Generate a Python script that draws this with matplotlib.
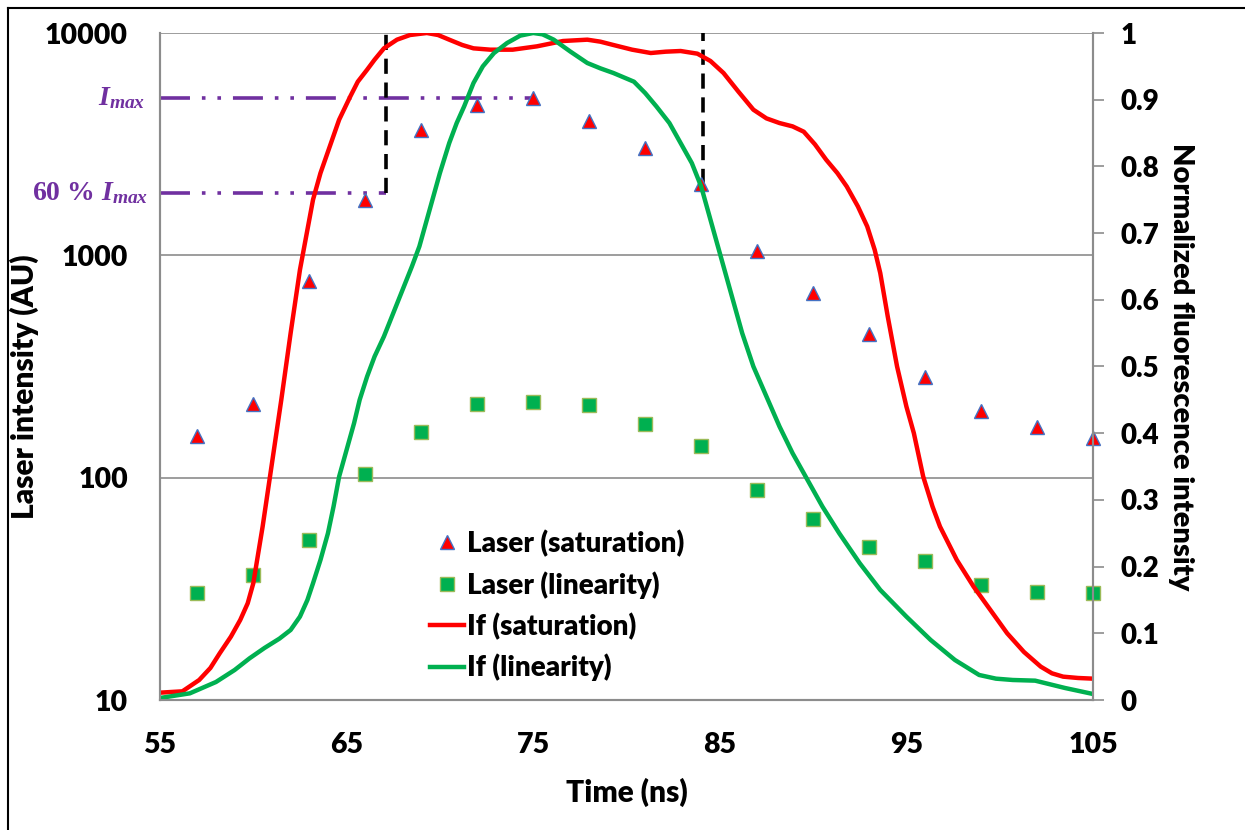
import matplotlib.pyplot as plt
from matplotlib.lines import Line2D

plt.rcParams['font.family'] = ['Lato', 'DejaVu Sans']
plt.rcParams['mathtext.fontset'] = 'custom'
plt.rcParams['mathtext.it'] = 'Liberation Serif:italic:bold'
plt.rcParams['mathtext.rm'] = 'Liberation Serif:bold'

# laser pulse samples (left log axis)
laser_t = [57, 60, 63, 66, 69, 72, 75, 78, 81, 84, 87, 90, 93, 96, 99, 102, 105]
laser_sat = [154, 215, 767, 1775, 3665, 4750, 5110, 4025, 3040, 2095, 1047, 677, 443, 284, 200, 169, 151]
laser_lin = [30.3, 36.5, 52.4, 104, 160, 215, 219, 212, 174, 139, 88, 65, 49, 42, 33, 30.6, 30.3]

# normalized fluorescence (right axis)
if_sat_t = [55.0, 56.2, 57.1, 57.7, 58.2, 58.8, 59.3, 59.7, 60.0, 60.5, 61.0, 61.5, 62.0, 62.5,
            62.9, 63.2, 63.6, 64.1, 64.6, 65.2, 65.6, 66.1, 66.5, 67.0, 67.7, 68.4, 69.3, 69.9,
            70.5, 71.2, 71.8, 72.7, 73.9, 75.2, 76.6, 77.9, 78.6, 79.3, 80.3, 81.3, 82.1, 82.9,
            83.8, 84.5, 85.2, 86.0, 86.8, 87.5, 88.2, 88.9, 89.5, 90.1, 90.7, 91.3, 91.8, 92.4,
            92.9, 93.3, 93.6, 94.0, 94.5, 95.0, 95.4, 95.9, 96.4, 96.8, 97.7, 98.6, 99.5, 100.4,
            101.3, 102.2, 102.8, 103.4, 104.2, 105.0]
if_sat = [0.011, 0.013, 0.03, 0.048, 0.07, 0.095, 0.12, 0.145, 0.175, 0.26, 0.355, 0.45, 0.55, 0.645,
          0.705, 0.75, 0.79, 0.83, 0.87, 0.905, 0.927, 0.945, 0.96, 0.977, 0.99, 0.997, 1.0, 0.997,
          0.99, 0.982, 0.977, 0.975, 0.975, 0.98, 0.988, 0.99, 0.987, 0.982, 0.975, 0.97, 0.972, 0.973,
          0.969, 0.958, 0.94, 0.912, 0.885, 0.872, 0.865, 0.86, 0.852, 0.833, 0.81, 0.79, 0.77, 0.74,
          0.71, 0.675, 0.64, 0.575, 0.5, 0.44, 0.4, 0.335, 0.29, 0.26, 0.21, 0.17, 0.135, 0.1,
          0.072, 0.05, 0.04, 0.035, 0.033, 0.032]

if_lin_t = [55.0, 56.6, 58.0, 59.0, 59.8, 60.6, 61.4, 62.0, 62.5, 62.9, 63.2, 63.6, 64.0, 64.3,
            64.6, 65.0, 65.4, 65.7, 66.1, 66.5, 67.0, 67.5, 68.0, 68.5, 68.9, 69.5, 70.0, 70.5,
            70.9, 71.3, 71.8, 72.3, 72.9, 73.6, 74.3, 75.0, 75.5, 76.1, 77.0, 77.9, 78.6, 79.3,
            80.4, 81.0, 81.6, 82.3, 82.9, 83.5, 84.0, 84.5, 85.0, 85.7, 86.2, 86.8, 87.5, 88.2,
            88.9, 89.7, 90.5, 91.4, 92.5, 93.6, 95.0, 96.3, 97.6, 98.9, 99.8, 100.7, 101.9, 103.5,
            105.0]
if_lin = [0.003, 0.01, 0.027, 0.045, 0.0625, 0.078, 0.092, 0.105, 0.125, 0.15, 0.175, 0.21, 0.25, 0.29,
          0.335, 0.375, 0.415, 0.45, 0.485, 0.515, 0.545, 0.58, 0.615, 0.65, 0.68, 0.74, 0.79, 0.835,
          0.865, 0.89, 0.925, 0.95, 0.97, 0.985, 0.996, 1.0, 0.998, 0.99, 0.972, 0.955, 0.947, 0.94,
          0.927, 0.91, 0.89, 0.865, 0.835, 0.805, 0.77, 0.72, 0.67, 0.6, 0.55, 0.5, 0.455, 0.41,
          0.37, 0.33, 0.29, 0.25, 0.205, 0.165, 0.125, 0.09, 0.06, 0.0375, 0.032, 0.03, 0.029, 0.018,
          0.009]

# reference levels
i_max = 5110
i_60 = 1900
t_left = 67.1
t_right = 84.1
right_bottom = 2100

purple = '#7030A0'
grid_gray = '#8C8C8C'

fig = plt.figure(figsize=(12.45, 8.3), dpi=100)
ax = fig.add_axes([160 / 1245, 1 - 700 / 830, 933 / 1245, 667 / 830])
ax2 = ax.twinx()

ax.set_yscale('log')
ax.set_xlim(55, 105)
ax.set_ylim(10, 10000)
ax2.set_ylim(0, 1)
ax.set_xticks([55, 65, 75, 85, 95, 105])
ax.set_yticks([10, 100, 1000, 10000])
ax.set_yticklabels(['10', '100', '1000', '10000'])
ax.minorticks_off()
ax2.set_yticks([i / 10 for i in range(11)])
ax2.set_yticklabels(['0'] + ['0.%d' % i for i in range(1, 10)] + ['1'])

ax.yaxis.grid(True, color=grid_gray, lw=1.2)
ax.set_axisbelow(True)
for a in (ax, ax2):
    for s in a.spines.values():
        s.set_color(grid_gray)
        s.set_linewidth(1.5)
    a.spines['top'].set_visible(False)

ax.tick_params(axis='y', length=0, pad=23, labelsize=20.5)
ax.tick_params(axis='x', length=0, pad=23, labelsize=20.5)
ax2.tick_params(axis='y', length=8, width=1.2, color=grid_gray, pad=12, labelsize=20)
for lab in ax.get_xticklabels() + ax.get_yticklabels() + ax2.get_yticklabels():
    lab.set_fontweight('heavy')

ax.set_xlabel('Time (ns)', fontsize=21.5, fontweight='heavy')
ax.set_ylabel('Laser intensity (AU)', fontsize=21.5, fontweight='heavy')
ax2.set_ylabel('Normalized fluorescence intensity', fontsize=21, fontweight='heavy', rotation=270)
ax.xaxis.set_label_coords(0.5, -0.117)
ax.yaxis.set_label_coords(-0.13, 0.47)
ax2.yaxis.set_label_coords(1.108, 0.5)

# reference lines
dashdotdot = (0, (8.3, 3.3, 1, 3.3, 1, 3.3))
ax.plot([55, 75], [i_max, i_max], color=purple, lw=2.6, linestyle=dashdotdot)
ax.plot([55, t_left], [i_60, i_60], color=purple, lw=2.6, linestyle=dashdotdot)
ax.plot([t_left, t_left], [i_60, 10000], color='black', lw=2.6, linestyle=(0, (4.2, 2.4)))
ax.plot([t_right, t_right], [right_bottom, 10000], color='black', lw=2.6, linestyle=(0, (4.2, 2.4)))
ax.text(54.2, i_max, r'$I_{max}$', color=purple, fontsize=20, ha='right', va='center',
        family='Liberation Serif', fontweight='bold')
ax.text(54.35, i_60, r'60 % $I_{max}$', color=purple, fontsize=20, ha='right', va='center',
        family='Liberation Serif', fontweight='bold')

ax.plot(laser_t, laser_sat, linestyle='none', marker='^', ms=10, mfc='#FF0000',
        mec='#4472C4', mew=1, clip_on=False)
ax.plot(laser_t, laser_lin, linestyle='none', marker='s', ms=10, mfc='#00B050',
        mec='#9BBB59', mew=1, clip_on=False)

ax2.plot(if_sat_t, if_sat, color='#FF0000', lw=3.2, solid_joinstyle='round')
ax2.plot(if_lin_t, if_lin, color='#00B050', lw=3.2, solid_joinstyle='round')

handles = [
    Line2D([], [], linestyle='none', marker='^', ms=10, mfc='#FF0000', mec='#4472C4'),
    Line2D([], [], linestyle='none', marker='s', ms=10, mfc='#00B050', mec='#9BBB59'),
    Line2D([], [], color='#FF0000', lw=3.2),
    Line2D([], [], color='#00B050', lw=3.2),
]
labels = ['Laser (saturation)', 'Laser (linearity)', 'If (saturation)', 'If (linearity)']
leg = ax2.legend(handles, labels, loc='upper left', bbox_to_anchor=(0.277, 0.272),
                 frameon=False, handlelength=1.25, handletextpad=0.1, labelspacing=0.5,
                 borderaxespad=0, prop={'size': 20, 'weight': 'heavy'})

# outer frame (left and top edges only)
fig.add_artist(Line2D([8 / 1245, 8 / 1245], [0, 1 - 8 / 830], color='black', lw=1.5,
                      transform=fig.transFigure))
fig.add_artist(Line2D([8 / 1245, 1], [1 - 8 / 830, 1 - 8 / 830], color='black', lw=1.5,
                      transform=fig.transFigure))

fig.savefig('out.png', dpi=100)
